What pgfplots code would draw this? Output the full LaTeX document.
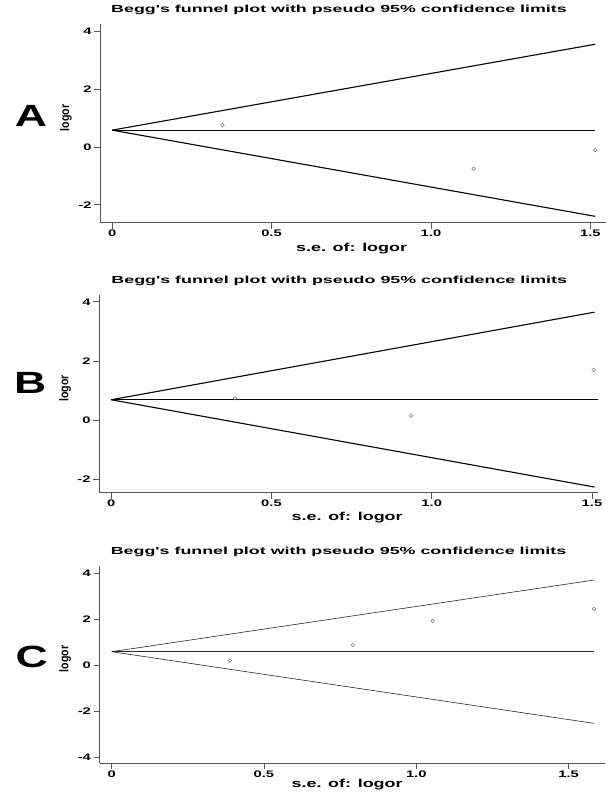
\documentclass[border=0pt]{standalone}
\usepackage{pgfplots}
\pgfplotsset{compat=1.18}
\usepackage{fontspec}
\setmainfont{Liberation Sans}
\newfontfamily\titlefam{Liberation Sans}[FakeStretch=1.75]
\newfontfamily\tickfam{Liberation Sans}[FakeStretch=1.55]
\newfontfamily\xlabfam{Liberation Sans}[FakeStretch=1.56]
\newfontfamily\ylabfam{Liberation Sans}[FakeStretch=0.85]
\newfontfamily\bigfam{Liberation Sans}[FakeStretch=1.45]
\newcommand\fT{\titlefam\bfseries\fontsize{10.2bp}{12bp}\selectfont}
\newcommand\fK{\tickfam\bfseries\fontsize{9.5bp}{11bp}\selectfont}
\newcommand\fX{\xlabfam\bfseries\fontsize{11.5bp}{13bp}\selectfont}
\newcommand\fY{\ylabfam\bfseries\fontsize{12.5bp}{14bp}\selectfont}
\newcommand\fB{\bigfam\bfseries\fontsize{30.7bp}{32bp}\selectfont}
\definecolor{axgray}{HTML}{555555}
\definecolor{mkgray}{HTML}{707070}
\pgfplotsset{
  funnel/.style={
    scale only axis, anchor=south west, clip=false,
    axis lines*=left,
    axis line style={-, draw=axgray, line width=0.7bp},
    tick style={draw=axgray, line width=0.7bp},
    tick align=outside, major tick length=6bp,
    xtick pos=bottom, ytick pos=left,
    /pgf/number format/assume math mode=true,
    tick label style={font=\fK, text=black},
    xtick={0,0.5,1,1.5}, xticklabels={0,0.5,1.0,1.5},
    yticklabel style={inner xsep=2.5bp},
    xticklabel style={inner ysep=1.3bp},
    title={Begg's funnel plot with pseudo 95\% confidence limits},
    xlabel={s.e. of: logor}, ylabel={logor},
    xlabel style={font=\fX, at={(axis description cs:0.497,-0.143)}, anchor=base},
    ylabel style={font=\fY, at={(axis description cs:-0.068,0.528)}, anchor=center, rotate=0},
  },
  fline/.style={black, line width=1.1bp, no marks},
  fpts/.style={only marks, mark=o, mark size=1.8bp, mark options={draw=mkgray, line width=0.5bp}},
}
\begin{document}
\begin{tikzpicture}
\path[use as bounding box] (0,0) rectangle (608bp,792bp);
% Panel A
\begin{axis}[funnel,
  at={(100.3bp,569.3bp)}, width=505.7bp, height=198.4bp,
  xmin=-0.037, xmax=1.549, ymin=-2.62, ymax=4.24,
  ytick={-2,0,2,4}, yticklabels={-2,0,2,4},
  title style={font=\fT, at={(axis description cs:0.472,1.028)}, anchor=base},
]
\addplot[fline] coordinates {(0,0.58) (1.515,0.58)};
\addplot[fline] coordinates {(0,0.58) (1.515,3.55)};
\addplot[fline] coordinates {(0,0.58) (1.515,-2.40)};
\addplot[fpts] coordinates {(0.346,0.75) (1.134,-0.75) (1.515,-0.11)};
\end{axis}
% Panel B
\begin{axis}[funnel,
  at={(99.2bp,299.3bp)}, width=499bp, height=197.7bp,
  xmin=-0.0375, xmax=1.5195, ymin=-2.45, ymax=4.23,
  ytick={-2,0,2,4}, yticklabels={-2,0,2,4},
  title style={font=\fT, at={(axis description cs:0.481,1.028)}, anchor=base},
]
\addplot[fline] coordinates {(0,0.69) (1.52,0.69)};
\addplot[fline] coordinates {(0,0.69) (1.508,3.65)};
\addplot[fline] coordinates {(0,0.69) (1.508,-2.26)};
\addplot[fpts] coordinates {(0.386,0.74) (0.936,0.145) (1.505,1.70)};
\end{axis}
% Panel C
\begin{axis}[funnel,
  at={(99.6bp,28.7bp)}, width=505.2bp, height=197.6bp,
  xmin=-0.0394, xmax=1.619, ymin=-4.26, ymax=4.31,
  ytick={-4,-2,0,2,4}, yticklabels={-4,-2,0,2,4},
  title style={font=\fT, at={(axis description cs:0.473,1.028)}, anchor=base},
  xlabel style={at={(axis description cs:0.49,-0.122)}},
]
\addplot[fline, line width=0.6bp, draw=black!85] coordinates {(0,0.58) (1.585,0.58)};
\addplot[fline, line width=0.6bp, draw=black!85] coordinates {(0,0.58) (1.585,3.69)};
\addplot[fline, line width=0.6bp, draw=black!85] coordinates {(0,0.58) (1.585,-2.53)};
\addplot[fpts] coordinates {(0.388,0.20) (0.792,0.88) (1.054,1.92) (1.584,2.44)};
\end{axis}
\node[font=\fB, anchor=center, inner sep=0pt] at (30.9bp,676.1bp) {A};
\node[font=\fB, anchor=center, inner sep=0pt] at (30.2bp,409bp) {B};
\node[font=\fB, anchor=center, inner sep=0pt] at (31.7bp,135bp) {C};
\end{tikzpicture}
\end{document}
